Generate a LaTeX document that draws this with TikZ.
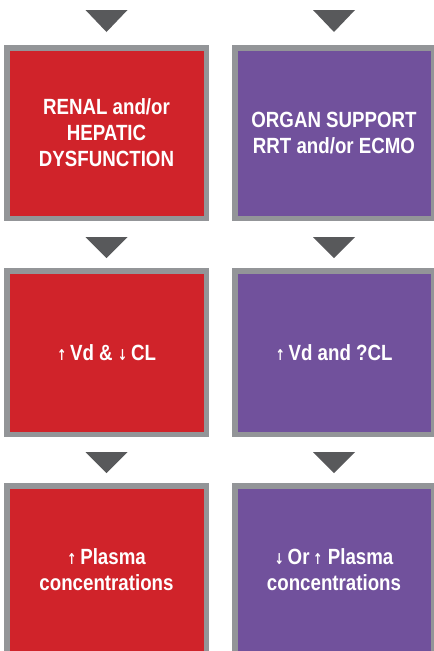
\documentclass[tikz,border=0pt]{standalone}
\usepackage{fontspec}
\setmainfont{Liberation Sans}[FakeStretch=0.85]
\newfontfamily\arrowfont{DejaVu Sans}[FakeStretch=0.75]
\usepackage{tikz}
\usetikzlibrary{calc}

\definecolor{boxred}{HTML}{D0232A}
\definecolor{boxpurple}{HTML}{71519C}
\definecolor{boxgray}{HTML}{939598}
\definecolor{trigray}{HTML}{58595B}

\newcommand{\up}{{\arrowfont\fontsize{15}{15}\selectfont ↑}}
\newcommand{\down}{{\arrowfont\fontsize{15}{15}\selectfont ↓}}

\begin{document}
\begin{tikzpicture}[x=1pt,y=-1pt,
							every node/.style={draw=boxgray,line width=5.5pt,text=white,align=center,
								font=\bfseries\fontsize{22}{26}\selectfont},
							redbox/.style={fill=boxred,minimum width=199.5pt},
							purplebox/.style={fill=boxpurple,minimum width=198.5pt},
							arrowtri/.style={fill=trigray}]
			\clip (0,0) rectangle (434,651);
			% left column
			\node[redbox,minimum height=170.5pt] (r1) at (106.5,133) {RENAL and/or\\HEPATIC\\DYSFUNCTION};
			\node[redbox,minimum height=163.5pt] (r2) at (106.5,352.5) {\up\,Vd \& \down\,CL};
			\node[redbox,minimum height=168.5pt] (r3) at (106.5,570) {\up\,Plasma\\concentrations};
			% right column
			\node[purplebox,minimum height=170.5pt] (p1) at (334,133) {ORGAN SUPPORT\\RRT and/or ECMO};
			\node[purplebox,minimum height=163.5pt] (p2) at (334,352.5) {\up\,Vd and ?CL};
			\node[purplebox,minimum height=168.5pt] (p3) at (334,570) {\down\,Or\,\up\ Plasma\\concentrations};
			% arrows
			\foreach \b in {r1,p1}
				\fill[arrowtri] ($(\b.north)+(-21,-35)$) -- ++(42,0) -- ++(-21,22) -- cycle;
			\foreach \b in {r2,p2,r3,p3}
				\fill[arrowtri] ($(\b.north)+(-21,-31)$) -- ++(42,0) -- ++(-21,21) -- cycle;
		\end{tikzpicture}
\end{document}
